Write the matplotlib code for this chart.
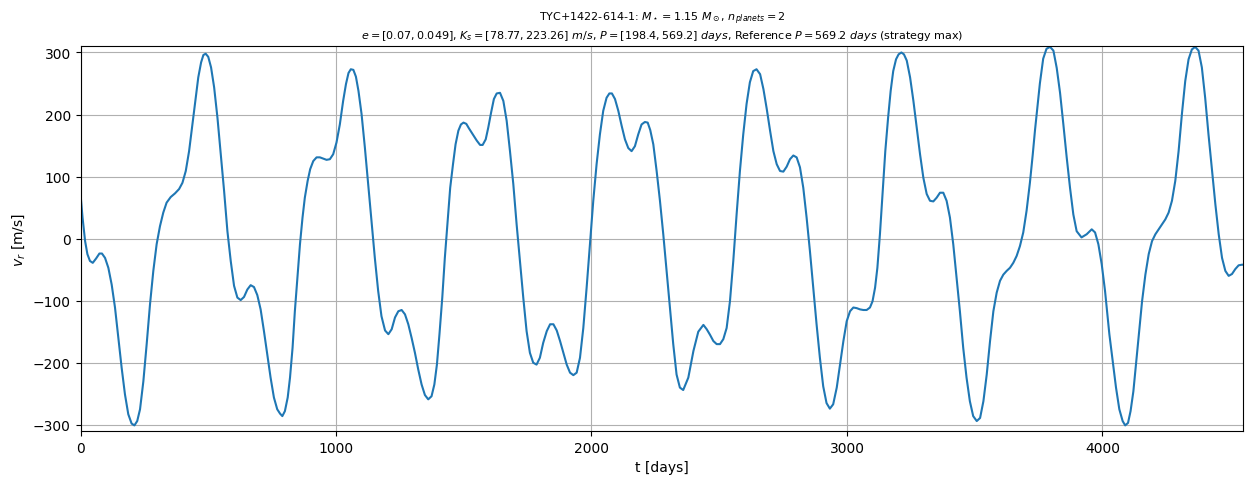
import matplotlib
matplotlib.use('Agg')
import matplotlib.pyplot as plt

# radial velocity curve (t in days, v_r in m/s)
t_days = [0, 8, 18, 27, 37, 48, 61, 74, 84, 96, 109, 122, 135, 148, 161, 174, 187, 200, 211,
          222, 233, 246, 259, 272, 285, 298, 311, 324, 337, 353, 370, 386, 399, 412, 425, 438,
          451, 461, 472, 481, 490, 500, 511, 523, 536, 549, 562, 575, 588, 601, 614, 627, 640,
          653, 666, 679, 692, 705, 718, 731, 744, 757, 770,
          781, 790, 800, 811, 820, 830, 839, 850, 859, 869, 878, 889, 899, 911, 924, 937, 950,
          963, 976, 989, 1002, 1015, 1028, 1039, 1049, 1058, 1068, 1078, 1088, 1100, 1113,
          1126, 1139, 1152, 1165, 1178, 1192, 1205, 1218, 1231, 1244, 1257, 1270, 1283, 1296,
          1309, 1322, 1335, 1348, 1361, 1374, 1385, 1395, 1405, 1416, 1426, 1437, 1447, 1458,
          1468, 1479, 1489, 1499, 1510, 1520, 1531,
          1551, 1564, 1574, 1586, 1596, 1607, 1618, 1629, 1642, 1655, 1668, 1681, 1694, 1707,
          1720, 1733, 1746, 1759, 1772, 1785, 1798, 1811, 1825, 1838, 1851, 1864, 1877, 1890,
          1903, 1916, 1929, 1942, 1955, 1968, 1981, 1994, 2007, 2020, 2033, 2046, 2059, 2070,
          2080, 2092, 2105, 2118, 2131, 2144, 2157, 2170, 2183, 2196, 2209, 2220,
          2230, 2242, 2255, 2268, 2281, 2294, 2307, 2320, 2333, 2346, 2359, 2379, 2399, 2418,
          2438, 2451, 2464, 2477, 2490, 2503, 2516, 2529, 2542, 2555, 2568, 2581, 2594, 2607,
          2620, 2633, 2646, 2660, 2673, 2686, 2699, 2712, 2725, 2738, 2751, 2764, 2777, 2790,
          2803, 2816, 2829, 2842, 2855, 2868, 2881, 2894, 2907, 2920, 2933, 2946, 2960, 2973,
          2986, 2999, 3012, 3025, 3038, 3051,
          3064, 3077, 3090, 3100, 3110, 3119, 3129, 3140, 3150, 3161, 3171, 3181, 3192, 3202,
          3213, 3223, 3234, 3247, 3260, 3273, 3286, 3299, 3312, 3325, 3338, 3351, 3364, 3377,
          3390, 3403, 3416, 3429, 3442, 3455, 3468, 3481, 3494, 3508, 3521, 3534, 3547, 3560,
          3573, 3586, 3599, 3612, 3625, 3638, 3651,
          3664, 3677, 3690, 3703, 3716, 3727, 3736, 3745, 3755, 3768, 3781, 3795, 3808, 3821,
          3834, 3847, 3860, 3873, 3886, 3899, 3918, 3938, 3958, 3971, 3984, 3997, 4010, 4027,
          4040, 4053, 4066, 4079, 4089, 4100,
          4110, 4121, 4131, 4142, 4155, 4168, 4181, 4194, 4207, 4220, 4233, 4246, 4259, 4272,
          4285, 4298, 4311, 4324, 4337, 4350, 4363, 4376, 4389, 4402, 4415, 4429, 4442, 4455,
          4468, 4481, 4494, 4507, 4520, 4533, 4546, 4551]
v_rad = [72, 34, -4, -25, -36, -39, -32, -24, -24, -31, -47, -74, -111, -160, -208, -251, -283, -298, -301,
         -294, -275, -230, -170, -106, -52, -9, 20, 42, 58, 67, 73, 80, 90, 109, 141, 184,
         227, 260, 284, 296, 298, 293, 276, 244, 195, 136, 77, 12, -36, -76, -95, -99, -94,
         -82, -75, -78, -91, -114, -149, -187, -224, -256, -275,
         -282, -286, -278, -256, -224, -176, -117, -58, -9, 34, 66, 93, 112, 125, 131, 131, 129,
         127, 128, 136, 155, 184, 222, 249, 267, 273, 272, 261, 238, 201, 147,
         88, 28, -31, -84, -125, -148, -154, -146, -127, -117, -115, -122, -138, -160,
         -184, -211, -235, -252, -259, -254, -235, -203, -154, -95, -31, 28, 82, 120,
         152, 174, 184, 187, 185, 178, 171,
         158, 151, 151, 160, 179, 203, 225, 234, 235, 222, 190, 141, 88, 23,
         -36, -95, -149, -184, -200, -203, -192, -168, -149, -138, -138, -148, -165, -184,
         -203, -216, -220, -216, -192, -144, -79, -9, 61, 120, 168, 206, 227, 234,
         234, 225, 206, 182, 160, 146, 141, 149, 168, 184, 188, 187,
         175, 152, 109, 61, 7, -52, -111, -170, -219, -240, -244, -224, -181, -150,
         -139, -146, -155, -165, -170, -170, -162, -144, -101, -36, 39, 109, 168, 217,
         252, 270, 273, 265, 241, 209, 174, 141, 120, 109, 108, 116, 128, 134,
         131, 115, 82, 34, -20, -79, -138, -192, -238, -265, -274, -267, -240, -203,
         -165, -133, -117, -111, -112, -114,
         -115, -115, -111, -101, -79, -47, 7, 77, 141, 195, 238, 270, 289, 297,
         300, 297, 287, 260, 222, 179, 136, 98, 72, 61, 60, 66, 74, 74,
         61, 34, -9, -63, -117, -176, -224, -262, -286, -294, -289, -262, -219, -165,
         -117, -87, -68, -58, -52, -47, -39,
         -28, -12, 10, 45, 90, 135, 175, 210, 250, 290, 306, 309, 303, 275,
         235, 184, 131, 82, 39, 12, 2, 7, 15, 10, -9, -41, -84, -154,
         -197, -240, -275, -294, -301, -297,
         -278, -246, -203, -154, -101, -58, -25, -4, 7, 15, 23, 31, 42, 61,
         93, 141, 201, 254, 289, 305, 309, 303, 276, 227, 168, 109, 55, 7,
         -31, -52, -60, -57, -49, -43, -42, -42]

title = ('TYC+1422-614-1: $M_\\star = 1.15\\ M_\\odot$, $n_{planets} = 2$\n'
         '$e = [0.07, 0.049]$, $K_s = [78.77, 223.26]\\ m/s$, '
         '$P = [198.4, 569.2]\\ days$, Reference $P = 569.2\\ days$ (strategy max)')

fig = plt.figure(figsize=(12.52, 4.85), dpi=100)
ax = fig.add_axes([0.0643, 0.1093, 0.9287, 0.7932])
ax.plot(t_days, v_rad, color='C0', linewidth=1.5)
ax.set_xlim(0, 4551)
ax.set_ylim(-310, 310)
ax.set_xlabel('t [days]')
ax.set_ylabel('$v_r$ [m/s]')
ax.set_title(title, fontsize=8)
ax.grid(True)

fig.savefig('out.png', dpi=100)
